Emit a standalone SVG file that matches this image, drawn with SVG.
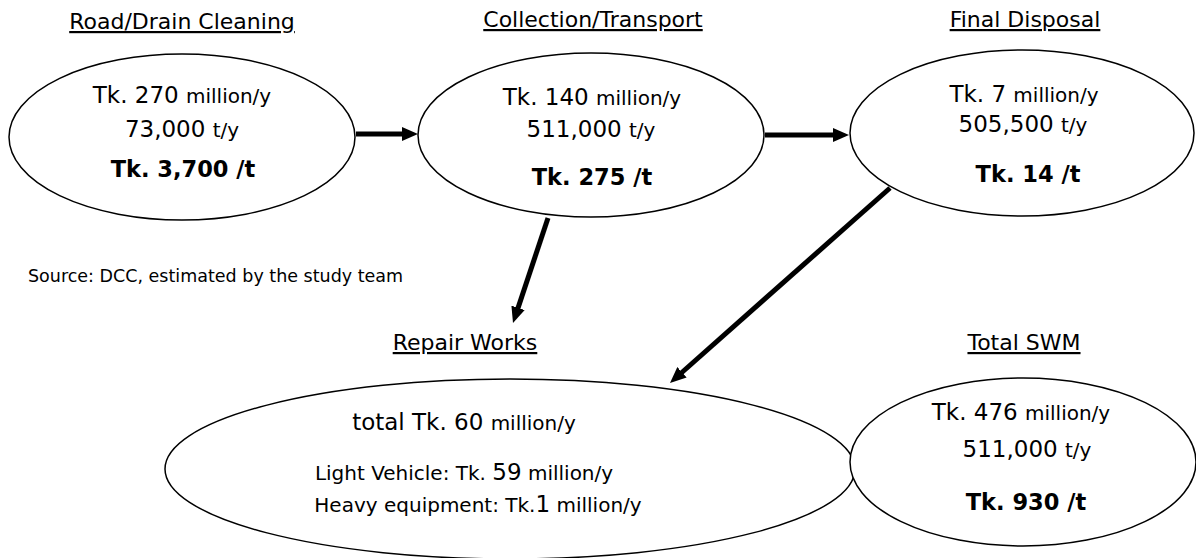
<svg xmlns="http://www.w3.org/2000/svg" width="1196" height="558" viewBox="0 0 1196 558">
<style>
text{font-family:"DejaVu Sans","Liberation Sans",sans-serif;fill:#000;text-anchor:middle}
.title{font-size:22px;text-decoration:underline}
.big{font-size:23px}
.sm{font-size:20px}
.bold{font-size:22.5px;font-weight:bold}
.src{font-size:17.5px;text-anchor:start}
ellipse{fill:#fff;stroke:#000;stroke-width:1.5}
.conn line{stroke:#000;stroke-width:5}
</style>
<defs>
<marker id="ah" markerUnits="userSpaceOnUse" markerWidth="16" markerHeight="14" refX="4" refY="7" orient="auto">
<path d="M0,0 L16,7 L0,14 z" fill="#000"/>
</marker>
</defs>
<rect width="1196" height="558" fill="#fff"/>

<g id="road">
<text class="title" x="182" y="29">Road/Drain Cleaning</text>
<ellipse cx="182" cy="137" rx="173" ry="83"/>
<text class="big" x="182" y="103">Tk. 270 <tspan class="sm">million/y</tspan></text>
<text class="big" x="182" y="137">73,000 <tspan class="sm">t/y</tspan></text>
<text class="bold" x="183" y="177">Tk. 3,700 /t</text>
</g>

<g id="collection">
<text class="title" x="593" y="27">Collection/Transport</text>
<ellipse cx="591" cy="135" rx="173" ry="82"/>
<text class="big" x="592" y="105">Tk. 140 <tspan class="sm">million/y</tspan></text>
<text class="big" x="591" y="137">511,000 <tspan class="sm">t/y</tspan></text>
<text class="bold" x="592" y="185">Tk. 275 /t</text>
</g>

<g id="disposal">
<text class="title" x="1025" y="27">Final Disposal</text>
<ellipse cx="1022" cy="133" rx="172" ry="83"/>
<text class="big" x="1024" y="102">Tk. 7 <tspan class="sm">million/y</tspan></text>
<text class="big" x="1023" y="132">505,500 <tspan class="sm">t/y</tspan></text>
<text class="bold" x="1028" y="182">Tk. 14 /t</text>
</g>

<text class="src" x="28" y="282">Source: DCC, estimated by the study team</text>

<g id="repair">
<text class="title" x="465" y="350">Repair Works</text>
<ellipse cx="510" cy="469" rx="345" ry="90"/>
<text class="big" x="464" y="430">total Tk. 60 <tspan class="sm">million/y</tspan></text>
<text class="sm" x="464" y="480">Light Vehicle: Tk. <tspan class="big">59</tspan> million/y</text>
<text class="sm" x="478" y="512">Heavy equipment: Tk.<tspan class="big">1</tspan> million/y</text>
</g>

<g id="total">
<text class="title" x="1024" y="350">Total SWM</text>
<ellipse cx="1023" cy="462" rx="173" ry="84"/>
<text class="big" x="1021" y="420">Tk. 476 <tspan class="sm">million/y</tspan></text>
<text class="big" x="1027" y="457">511,000 <tspan class="sm">t/y</tspan></text>
<text class="bold" x="1026" y="510">Tk. 930 /t</text>
</g>

<g class="conn" id="connectors">
<line x1="356" y1="134" x2="406" y2="134" marker-end="url(#ah)"/>
<line x1="765" y1="135" x2="837" y2="135" marker-end="url(#ah)"/>
<line x1="548" y1="218" x2="516.8" y2="311.6" marker-end="url(#ah)"/>
<line x1="890" y1="188" x2="679" y2="375" marker-end="url(#ah)"/>
</g>
</svg>
